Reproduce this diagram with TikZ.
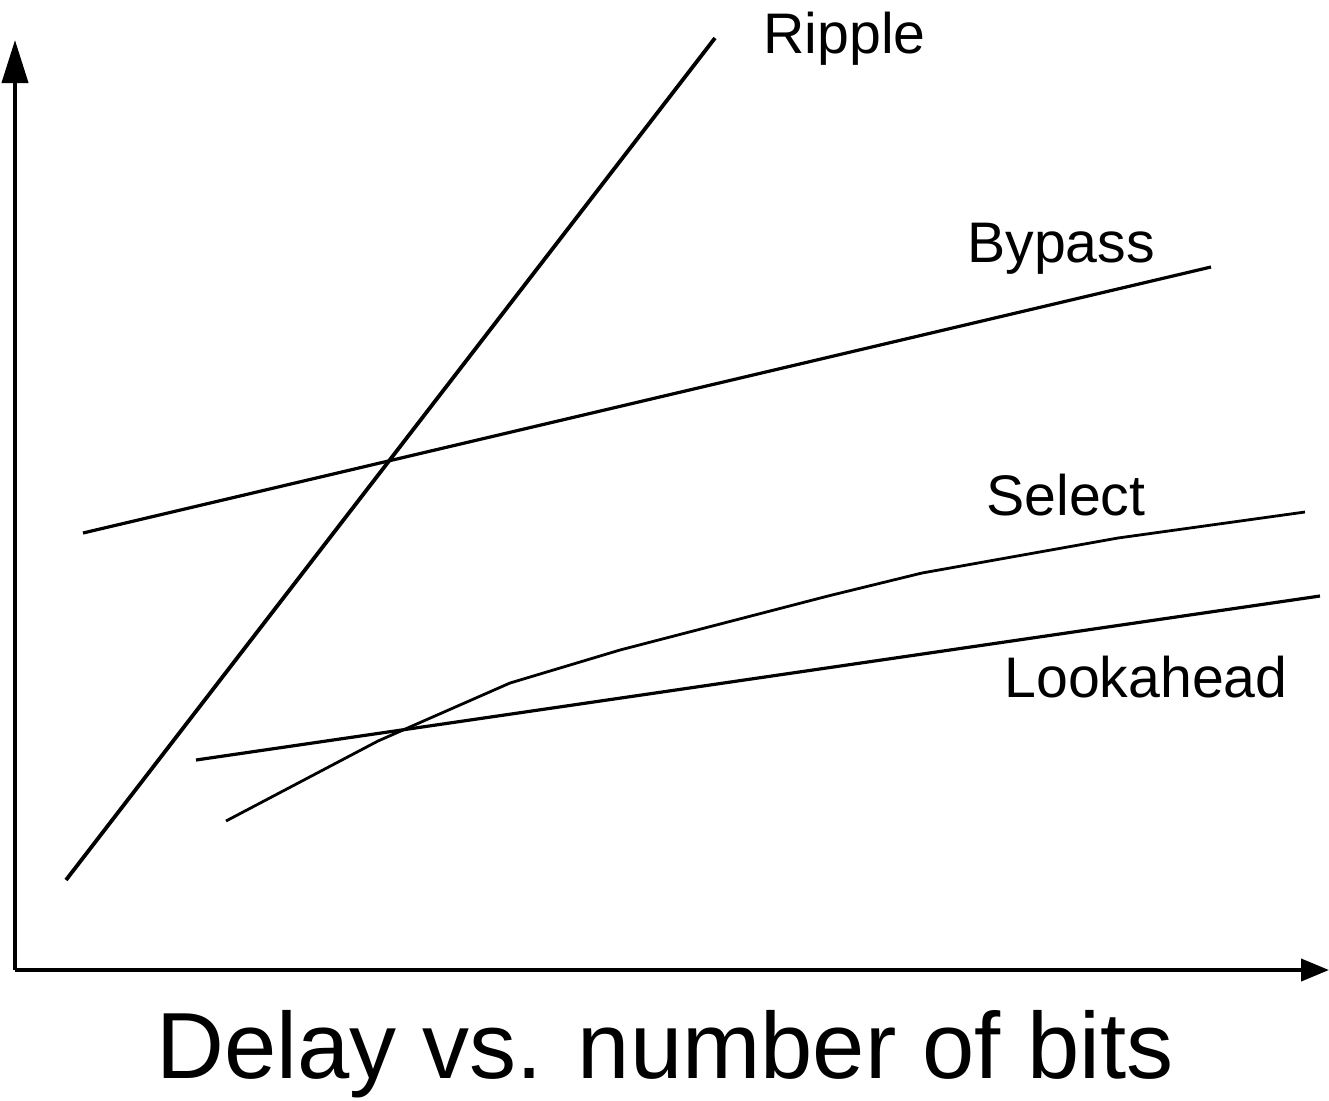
\documentclass[tikz,border=0pt]{standalone}
\usepackage{fontspec}
\setmainfont{Liberation Sans}
\usetikzlibrary{arrows.meta}
\begin{document}
\begin{tikzpicture}[x=0.5pt,y=-0.5pt,
  axis/.style={line width=2pt},
  curve/.style={line width=1.4pt, line join=miter},
  lbl/.style={anchor=base west, inner sep=0pt, font=\fontsize{28.6}{30}\selectfont},
  ttl/.style={anchor=base, inner sep=0pt, font=\fontsize{47}{50}\selectfont}]
\useasboundingbox (0,0) rectangle (1329,1100);
% axes
\coordinate (O) at (15,970);
\coordinate (ytip) at (15,40);
\coordinate (xtip) at (1329,970);
\draw[axis, -{Triangle[length=21.5pt,width=13pt]}] (O) -- (ytip);
\draw[axis, -{Triangle[length=14pt,width=11pt]}] (O) -- (xtip);
% curves
\coordinate (r0) at (66,880); \coordinate (r1) at (715,38);
\draw[curve, line width=1.9pt] (r0) -- (r1);
\coordinate (b0) at (83,533); \coordinate (b1) at (1211,267);
\draw[curve, line width=1.6pt] (b0) -- (b1);
\coordinate (l0) at (196,760); \coordinate (l1) at (1320,596);
\draw[curve, line width=1.6pt] (l0) -- (l1);
\draw[curve] (226,821) coordinate (s0) -- (378,741) -- (510,683) -- (620,650) -- (828,596) -- (922,573) -- (1118,538) -- (1305,512) coordinate (s1);
% labels
\node[lbl] (ripple) at (763,53) {Ripple};
\node[lbl] (bypass) at (967,262) {Bypass};
\node[lbl] (select) at (986,515) {Select};
\node[lbl] (look) at (1004,697) {Lookahead};
\node[ttl] (title) at (665,1078) {Delay vs. number of bits};
\end{tikzpicture}
\end{document}
